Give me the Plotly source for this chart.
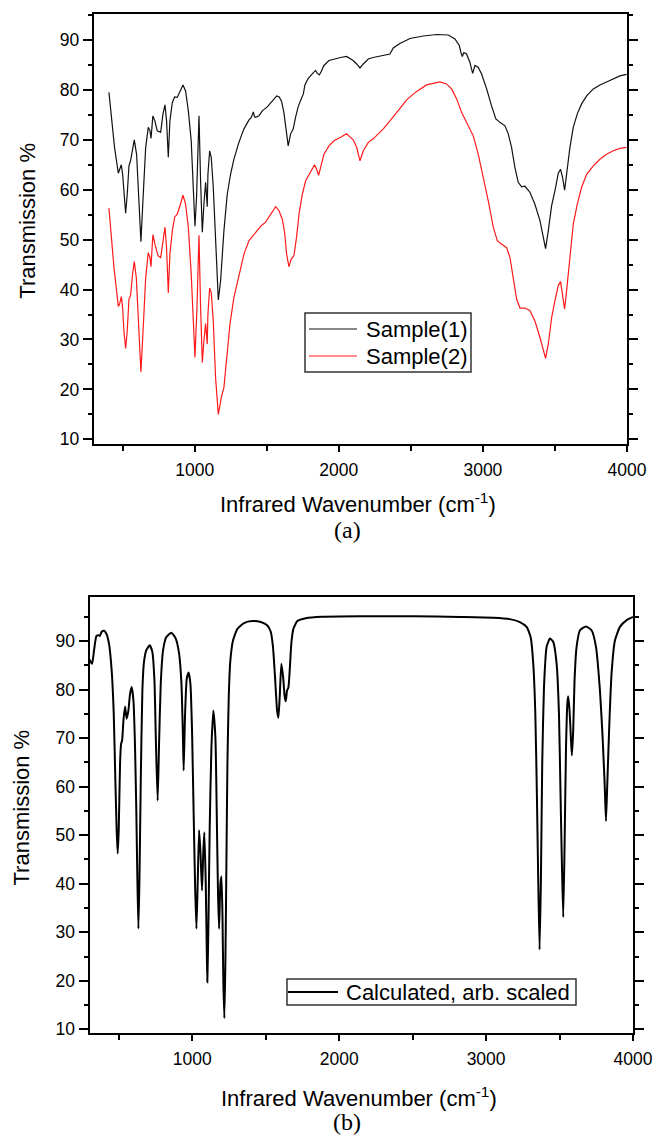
import plotly.graph_objects as go

# ---------------- data ----------------
sample1_x = [405, 417, 444, 470, 477, 491, 500, 521, 532, 544, 555, 581, 597, 613, 627, 641, 660, 678, 690, 697,
             710, 724, 740, 764, 780, 794, 805, 817, 828, 845, 861, 879, 898, 919, 937, 956, 976, 990, 1002, 1013,
             1030, 1041, 1053, 1064, 1076, 1087, 1092, 1104, 1115, 1129, 1145, 1164, 1180, 1203, 1226, 1249, 1272,
             1307, 1342, 1377, 1393, 1407, 1415, 1423, 1446, 1469, 1504, 1538, 1569, 1587, 1603, 1619, 1636, 1649,
             1666, 1684, 1700, 1717, 1735, 1754, 1765, 1786, 1816, 1839, 1851, 1865, 1878, 1897, 1932, 1966, 2013,
             2054, 2100, 2124, 2147, 2170, 2205, 2239, 2286, 2320, 2355, 2378, 2424, 2494, 2586, 2679, 2760, 2806,
             2836, 2848, 2857, 2868, 2887, 2910, 2929, 2945, 2968, 2991, 3026, 3060, 3090, 3118, 3153, 3176, 3199,
             3222, 3245, 3269, 3292, 3326, 3361, 3396, 3419, 3435, 3454, 3477, 3500, 3523, 3539, 3553, 3567, 3581,
             3604, 3627, 3655, 3685, 3720, 3766, 3812, 3858, 3905, 3951, 3997]
sample1_y = [79.5, 75.8, 68.5, 63.3, 63.8, 65.0, 63.1, 55.3, 59.1, 64.8, 65.8, 70.0, 67.1, 57.8, 49.6, 57.8, 68.5,
             72.5, 71.8, 70.3, 74.8, 73.8, 71.8, 71.5, 75.2, 77.0, 73.8, 66.5, 73.8, 77.5, 78.6, 78.5, 79.8, 81.0,
             79.8, 75.8, 69.8, 61.8, 52.7, 58.5, 74.8, 61.8, 51.5, 57.1, 61.5, 56.6, 63.1, 67.8, 66.5, 60.5, 48.5,
             37.9, 41.8, 51.8, 59.1, 63.1, 66.1, 69.5, 72.2, 74.0, 74.5, 75.6, 74.6, 74.5, 74.8, 75.8, 76.6, 77.7,
             78.8, 78.6, 77.7, 75.5, 71.2, 68.8, 71.2, 72.2, 74.5, 76.5, 77.9, 79.2, 81.0, 82.2, 83.2, 83.9, 83.3,
             83.0, 83.7, 84.9, 85.9, 86.2, 86.5, 86.7, 85.9, 85.2, 84.4, 85.2, 86.2, 86.5, 86.8, 86.9, 87.2, 88.4,
             89.3, 90.3, 90.8, 91.1, 91.0, 90.2, 88.9, 87.5, 86.7, 87.5, 87.2, 85.5, 83.3, 84.9, 84.5, 83.2, 80.2,
             76.8, 74.2, 73.5, 72.8, 71.2, 68.5, 64.5, 61.5, 60.6, 60.7, 59.5, 57.1, 53.8, 50.8, 48.2, 51.8, 56.8,
             59.8, 63.3, 64.1, 62.5, 59.9, 63.1, 68.5, 72.5, 75.2, 77.2, 78.8, 80.2, 81.0, 81.6, 82.2, 82.8, 83.1]

sample2_x = [405, 421, 440, 458, 470, 479, 491, 500, 509, 521, 532, 544, 555, 569, 581, 595, 611, 627, 643, 660,
             678, 690, 697, 710, 724, 745, 764, 780, 794, 805, 817, 828, 845, 861, 879, 898, 919, 937, 956, 976,
             990, 1002, 1016, 1030, 1041, 1053, 1064, 1076, 1087, 1092, 1104, 1115, 1129, 1145, 1164, 1185, 1203,
             1222, 1245, 1272, 1307, 1342, 1377, 1407, 1434, 1462, 1492, 1515, 1538, 1562, 1585, 1608, 1624, 1638,
             1654, 1670, 1689, 1707, 1724, 1747, 1770, 1793, 1816, 1832, 1846, 1860, 1874, 1897, 1932, 1966, 2013,
             2054, 2077, 2100, 2124, 2147, 2170, 2205, 2239, 2274, 2309, 2355, 2413, 2471, 2540, 2609, 2702, 2748,
             2783, 2818, 2852, 2887, 2933, 2968, 3003, 3037, 3072, 3100, 3130, 3165, 3188, 3211, 3234, 3257, 3292,
             3326, 3361, 3396, 3419, 3435, 3454, 3477, 3500, 3523, 3539, 3553, 3567, 3581, 3604, 3627, 3655, 3685,
             3720, 3766, 3812, 3858, 3905, 3951, 3997]
sample2_y = [56.3, 50.5, 44.4, 39.8, 36.6, 37.1, 38.6, 36.4, 31.7, 28.2, 31.7, 38.1, 38.8, 43.1, 45.6, 42.4, 33.7,
             23.5, 32.4, 42.4, 47.4, 46.4, 44.6, 51.0, 49.1, 46.8, 46.4, 49.8, 52.5, 48.4, 39.3, 47.1, 51.8, 54.5,
             55.1, 56.8, 58.9, 57.1, 52.5, 43.1, 35.1, 26.4, 36.4, 50.9, 36.4, 25.4, 29.7, 33.2, 29.1, 35.1, 40.3,
             39.4, 33.7, 22.4, 15.0, 18.4, 20.4, 25.7, 33.1, 38.4, 43.1, 47.1, 49.8, 50.8, 51.8, 52.8, 53.5, 54.5,
             55.5, 56.6, 55.8, 54.1, 51.5, 47.1, 44.6, 46.1, 46.8, 50.5, 55.1, 59.1, 61.8, 63.1, 64.1, 65.0, 64.1,
             62.9, 64.5, 67.1, 68.8, 69.8, 70.5, 71.2, 70.6, 70.0, 68.5, 65.8, 67.8, 69.5, 70.2, 71.2, 72.2, 73.8,
             75.8, 78.0, 79.7, 81.0, 81.6, 81.2, 80.2, 78.2, 75.5, 73.5, 70.8, 67.1, 62.5, 57.8, 52.5, 49.8, 49.1,
             48.4, 46.4, 42.4, 38.1, 36.3, 36.3, 35.8, 33.7, 30.4, 27.7, 26.2, 29.1, 34.4, 37.8, 40.8, 41.6, 39.1,
             36.1, 39.8, 47.1, 53.1, 57.1, 60.5, 63.1, 64.8, 66.1, 67.1, 67.8, 68.3, 68.5]

calc_x = [300, 308, 318, 331, 347, 361, 370, 383, 399, 415, 433, 451, 465, 476, 485, 492, 499, 508, 515, 522, 531,
          542, 553, 565, 576, 587, 599, 610, 619, 626, 633, 640, 649, 660, 671, 687, 710, 728, 742, 753, 764, 773,
          785, 801, 823, 857, 887, 910, 926, 935, 941, 950, 962, 975, 987, 998, 1009, 1019, 1028, 1037, 1046, 1055,
          1066, 1075, 1082, 1091, 1098, 1102, 1109, 1118, 1130, 1143, 1157, 1168, 1175, 1182, 1191, 1198, 1205,
          1211, 1218, 1225, 1232, 1239, 1248, 1259, 1277, 1307, 1352, 1409, 1466, 1511, 1534, 1549, 1563, 1577,
          1586, 1595, 1606, 1618, 1629, 1636, 1645, 1654, 1663, 1674, 1688, 1715, 1772, 1885, 2135, 2500, 2822,
          3049, 3162, 3230, 3276, 3303, 3321, 3335, 3346, 3355, 3364, 3373, 3382, 3394, 3412, 3435, 3457, 3480,
          3496, 3507, 3516, 3525, 3534, 3544, 3553, 3559, 3568, 3578, 3584, 3593, 3602, 3616, 3639, 3680, 3718,
          3748, 3775, 3793, 3807, 3816, 3825, 3839, 3854, 3877, 3911, 3957, 4000]
calc_y = [86.2, 85.7, 85.3, 88.1, 91.0, 91.2, 91.0, 91.9, 92.1, 91.5, 89.4, 83.9, 75.0, 61.3, 51.0, 46.2, 51.0,
          64.7, 68.8, 69.5, 73.6, 76.5, 74.0, 75.7, 79.1, 80.5, 77.8, 68.1, 54.4, 40.7, 30.7, 40.7, 61.3, 79.8,
          85.7, 88.1, 89.1, 87.7, 81.9, 68.1, 57.1, 68.1, 81.2, 88.1, 90.8, 91.7, 90.5, 87.4, 81.2, 71.6, 63.3,
          74.3, 82.2, 83.5, 81.2, 71.6, 54.4, 39.3, 30.7, 40.7, 51.0, 46.8, 38.6, 46.8, 50.6, 40.7, 26.9, 19.7,
          30.3, 51.0, 68.1, 75.7, 70.2, 51.0, 37.9, 30.7, 40.0, 41.5, 33.8, 20.0, 12.3, 23.5, 44.1, 64.7, 78.5,
          86.0, 90.1, 92.5, 93.7, 94.1, 93.9, 93.2, 91.9, 88.8, 82.6, 75.7, 74.2, 78.5, 85.3, 82.6, 78.5, 77.6,
          79.8, 80.4, 83.9, 89.5, 92.5, 94.1, 94.7, 95.0, 95.1, 95.1, 94.95, 94.8, 94.5, 93.9, 92.9, 90.8, 85.3,
          75.0, 57.8, 40.6, 26.4, 40.6, 64.7, 80.5, 88.8, 90.5, 89.8, 85.3, 75.0, 57.8, 44.1, 33.1, 47.5, 68.1,
          77.1, 78.6, 75.7, 69.5, 66.4, 71.6, 81.9, 88.8, 92.2, 93.0, 92.2, 88.8, 79.8, 70.2, 60.6, 52.9, 60.6,
          73.0, 83.3, 90.1, 92.9, 94.3, 94.95]

x_major = [1000, 2000, 3000, 4000]
x_minor = [500, 1500, 2500, 3500]
x_top = [500, 1000, 1500, 2000, 2500, 3000, 3500]
y_major = [10, 20, 30, 40, 50, 60, 70, 80, 90]
y_minor = [15, 25, 35, 45, 55, 65, 75, 85, 95]

# ---------------- figure ----------------
W, H = 652, 1143
FONT = "Liberation Sans, Arial, sans-serif"
SERIF = "Liberation Serif, Times New Roman, serif"
C1, C2, C3 = "#111111", "#ff1a1a", "black"


def px(v):
    return v / W


def py(v):
    return 1 - v / H


fig = go.Figure()
fig.add_trace(go.Scatter(x=sample1_x, y=sample1_y, mode="lines", name="Sample(1)",
                         line=dict(color=C1, width=1.2), xaxis="x", yaxis="y"))
fig.add_trace(go.Scatter(x=sample2_x, y=sample2_y, mode="lines", name="Sample(2)",
                         line=dict(color=C2, width=1.2), xaxis="x", yaxis="y"))
fig.add_trace(go.Scatter(x=calc_x, y=calc_y, mode="lines", name="Calculated, arb. scaled",
                         line=dict(color=C3, width=2, shape="spline", smoothing=0.5),
                         xaxis="x2", yaxis="y2"))

tickfont = dict(family=FONT, size=17.5, color="black")


def xax(domain, anchor, rng):
    return dict(domain=domain, anchor=anchor, range=rng, tickmode="array", tickvals=x_major,
                ticks="outside", ticklen=6, tickwidth=2, tickcolor="black", tickfont=tickfont,
                minor=dict(tickmode="array", tickvals=x_minor, ticks="outside", ticklen=5, tickwidth=2,
                           tickcolor="black"),
                showline=True, linewidth=2, linecolor="black", mirror=True,
                showgrid=False, zeroline=False, automargin=False, ticklabelstandoff=3,
                ticklabeloverflow="allow")


def yax(domain, anchor, rng):
    return dict(domain=domain, anchor=anchor, range=rng, tickmode="array", tickvals=y_major,
                ticks="outside", ticklen=9, tickwidth=2, tickcolor="black", tickfont=tickfont,
                minor=dict(tickmode="array", tickvals=y_minor, ticks="outside", ticklen=4, tickwidth=2,
                           tickcolor="black"),
                showline=True, linewidth=2, linecolor="black", mirror="ticks",
                showgrid=False, zeroline=False, automargin=False)


def topax(over, anchor, rng):
    return dict(overlaying=over, anchor=anchor, side="top", range=rng, tickmode="array", tickvals=x_top,
                ticks="inside", ticklen=5, tickwidth=2, tickcolor="black", showticklabels=False,
                showline=False, showgrid=False, zeroline=False, automargin=False)


xr1 = [300, 4000]
xr2 = [300, 4000]
fig.update_layout(
    width=W, height=H,
    margin=dict(l=0, r=0, t=0, b=0),
    paper_bgcolor="white", plot_bgcolor="white",
    font=dict(family=FONT, color="black"),
    xaxis=xax([px(93.8), px(627)], "y", xr1),
    yaxis=yax([py(444), py(14)], "x", [9.06, 95.21]),
    xaxis2=xax([px(89.5), px(633)], "y2", xr2),
    yaxis2=yax([py(1033), py(597)], "x2", [9.24, 99.06]),
    xaxis3=topax("x", "y", xr1),
    xaxis4=topax("x2", "y2", xr2),
    showlegend=False,
)

# ---- legends (boxes, line samples and labels) ----
legend_items_a = [("Sample(1)", C1, 1.2, 329), ("Sample(2)", C2, 1.2, 356)]
fig.add_shape(type="rect", xref="paper", yref="paper", x0=px(305), x1=px(471), y0=py(372), y1=py(313),
              line=dict(color="#333333", width=1.5), fillcolor="white", layer="above")
for label, col, w, yy in legend_items_a:
    fig.add_shape(type="line", xref="paper", yref="paper", x0=px(309), x1=px(357), y0=py(yy), y1=py(yy),
                  line=dict(color=col, width=w), layer="above")
    fig.add_annotation(xref="paper", yref="paper", x=px(364), y=py(yy), text=label, showarrow=False,
                       xanchor="left", yanchor="middle", font=dict(family=FONT, size=22, color="black"))

fig.add_shape(type="rect", xref="paper", yref="paper", x0=px(287), x1=px(576), y0=py(1005), y1=py(979),
              line=dict(color="#333333", width=1.5), fillcolor="white", layer="above")
fig.add_shape(type="line", xref="paper", yref="paper", x0=px(288), x1=px(338), y0=py(992), y1=py(992),
              line=dict(color=C3, width=2), layer="above")
fig.add_annotation(xref="paper", yref="paper", x=px(344), y=py(992), text="Calculated, arb. scaled",
                   showarrow=False, xanchor="left", yanchor="middle",
                   font=dict(family=FONT, size=22, color="black"))

title_font = dict(family=FONT, size=22, color="black")
ann = [
    dict(text="Transmission %", x=px(26.7), y=py(221), textangle=-90, font=title_font),
    dict(text="Infrared Wavenumber (cm<sup>-1</sup>)", x=px(358), y=py(503), font=title_font),
    dict(text="(a)", x=px(347), y=py(530), font=dict(family=SERIF, size=24, color="black")),
    dict(text="Transmission %", x=px(20.5), y=py(808), textangle=-90, font=title_font),
    dict(text="Infrared Wavenumber (cm<sup>-1</sup>)", x=px(358.5), y=py(1097), font=title_font),
    dict(text="(b)", x=px(347), y=py(1122), font=dict(family=SERIF, size=24, color="black")),
]
for a in ann:
    fig.add_annotation(xref="paper", yref="paper", showarrow=False, xanchor="center", yanchor="middle", **a)

fig.write_html("out.html", config={"displayModeBar": False},
               post_script="document.documentElement.style.margin='0';"
                           "document.body.style.margin='0';document.body.style.overflow='hidden';")
